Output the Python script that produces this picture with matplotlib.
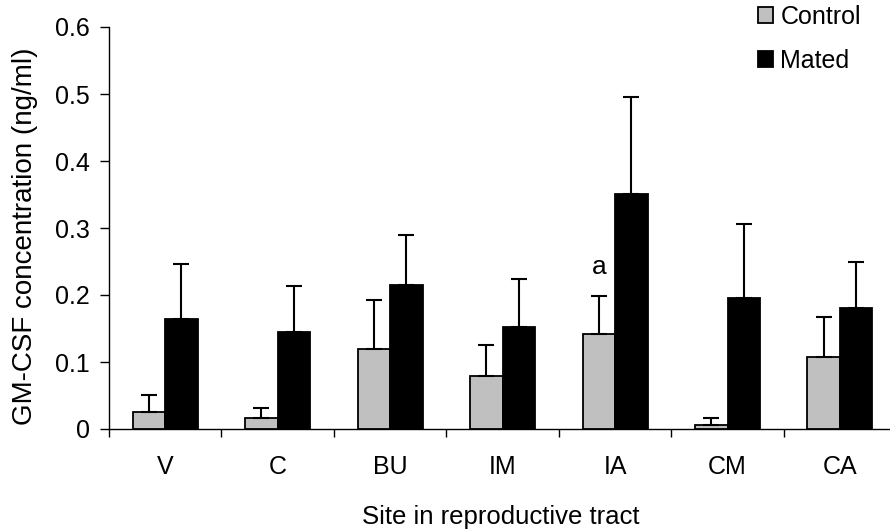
import numpy as np
import matplotlib
matplotlib.use("Agg")
import matplotlib.pyplot as plt
from matplotlib.patches import Patch

plt.rcParams.update({
    "font.family": ["Liberation Sans", "DejaVu Sans"],
    "font.size": 18,
})

# ------------------------------------------------------------------ data
sites = ["V", "C", "BU", "IM", "IA", "CM", "CA"]
control = [0.026, 0.016, 0.119, 0.079, 0.142, 0.0065, 0.107]
control_err = [0.025, 0.016, 0.074, 0.047, 0.057, 0.0095, 0.060]
mated = [0.164, 0.145, 0.215, 0.152, 0.351, 0.196, 0.180]
mated_err = [0.082, 0.069, 0.075, 0.072, 0.145, 0.110, 0.069]

GREY = "#c0c0c0"

fig = plt.figure(figsize=(8.9, 5.31), dpi=100)
ax = fig.add_axes([109 / 890, 102 / 531, 1 - 109 / 890, 402 / 531])

x = np.arange(len(sites))
w = 0.289
err_kw = dict(ecolor="black", elinewidth=1.5, capsize=5.6, capthick=1.5)

ax.bar(x - w / 2, control, w, color=GREY, edgecolor="black", lw=1.3,
       yerr=[np.zeros(len(sites)), control_err], error_kw=err_kw, zorder=3)
ax.bar(x + w / 2, mated, w, color="black", edgecolor="black", lw=1.3,
       yerr=[np.zeros(len(sites)), mated_err], error_kw=err_kw, zorder=3)

# significance mark
ax.text(4 - w / 2, 0.231, "a", ha="center", va="baseline", fontsize=19)

ax.set_xlim(-0.5, 6.445)
ax.set_ylim(0, 0.6)
ax.set_yticks(np.arange(0, 0.61, 0.1))
ax.set_yticklabels(["0", "0.1", "0.2", "0.3", "0.4", "0.5", "0.6"])

# category boundaries carry the tick marks, labels sit at centres
ax.set_xticks(np.arange(-0.5, 6.0, 1.0))
ax.set_xticklabels([])
ax.set_xticks(x, minor=True)
ax.set_xticklabels(sites, minor=True)
ax.tick_params(axis="x", which="major", length=6, width=1.0, direction="out")
ax.tick_params(axis="x", which="minor", length=0, pad=19)
ax.tick_params(axis="y", length=6.5, width=1.0, direction="out", pad=7)

for s in ["top", "right"]:
    ax.spines[s].set_visible(False)
for s in ["left", "bottom"]:
    ax.spines[s].set_linewidth(1.0)

ax.set_ylabel("GM-CSF concentration (ng/ml)", va="center", fontsize=20)
ax.yaxis.set_label_coords((25 - 109) / 781, 0.48)
ax.set_xlabel("Site in reproductive tract", va="center", fontsize=18.5)
ax.xaxis.set_label_coords((501 - 109) / 781, (429 - 517) / 402)

handles = [Patch(facecolor=GREY, edgecolor="black", lw=1.3),
           Patch(facecolor="black", edgecolor="black", lw=1.3)]
fig.legend(handles, ["Control", "Mated"], loc="upper left",
           bbox_to_anchor=(758 / 890, 1 - 5 / 531), frameon=False,
           borderpad=0, borderaxespad=0,
           handlelength=0.6, handleheight=0.6, handletextpad=0.3,
           labelspacing=0.8, fontsize=18)

fig.savefig("out.png", dpi=100)
